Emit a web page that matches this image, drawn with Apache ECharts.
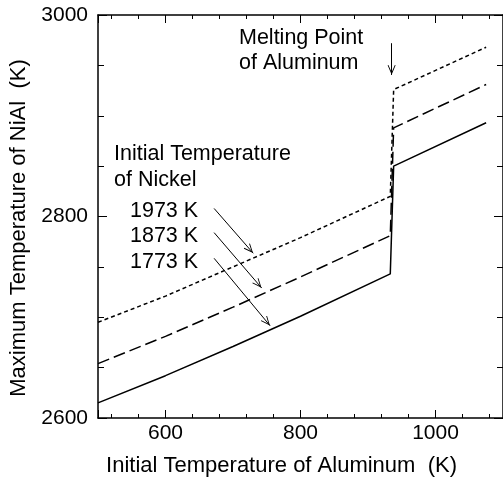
<!DOCTYPE html>
<html>
<head>
<meta charset="utf-8">
<title>NiAl</title>
<script src="https://cdn.jsdelivr.net/npm/echarts@6/dist/echarts.min.js"></script>
<style>
  html, body { margin: 0; padding: 0; background: #fff; }
  #main { width: 503px; height: 484px; }
</style>
</head>
<body>
<div id="main"></div>
<script>
// initial temperature of aluminum (K), jump at the melting point ~933 K
var tempAl = [500, 600, 700, 800, 933, 938, 1075];

// maximum temperature of NiAl (K), one line per initial nickel temperature
var ni1773 = [2615, 2642, 2671, 2701, 2743, 2850, 2893];
var ni1873 = [2654, 2681, 2710, 2740, 2781, 2888, 2931];
var ni1973 = [2695, 2721, 2750, 2779, 2820, 2926, 2968];

var nickelLabels = ['1973 K', '1873 K', '1773 K'];

// annotation arrows [x, y] from -> to
var arrowFrom = [[672, 2808], [672, 2784], [672, 2758.5], [935, 2972]];
var arrowTo   = [[730, 2763.5], [742.5, 2729], [755, 2691.5], [935, 2940.5]];

var FONT = "'Liberation Sans', Arial, Helvetica, sans-serif";

function pairs(xs, ys) {
    return xs.map(function (x, i) { return [x, ys[i]]; });
}

function plain(v) {
    return String(v);
}

// open arrow head, tip sits in the middle of the box
var arrowHead = 'path://M5,0 L5.01,0 Z M5,10 L1,19 L1.8,19.4 L5,12.2 L8.2,19.4 L9,19 Z';

var arrows = arrowFrom.map(function (p, i) {
    return [{ coord: p }, { coord: arrowTo[i] }];
});

var chart = echarts.init(document.getElementById('main'));

var xBase = {
    type: 'value',
    min: 500,
    max: 1100,
    splitNumber: 3,
    axisLine: { show: true, lineStyle: { color: '#000', width: 1.5 } },
    axisTick: { show: true, inside: true, length: 8, lineStyle: { color: '#000', width: 1 } },
    minorTick: { show: true, splitNumber: 5, length: 4, lineStyle: { color: '#000', width: 1 } },
    splitLine: { show: false }
};

var yBase = {
    type: 'value',
    min: 2600,
    max: 3000,
    interval: 200,
    axisLine: { show: true, lineStyle: { color: '#000', width: 1.5 } },
    axisTick: { show: true, inside: true, length: 9, lineStyle: { color: '#000', width: 1 } },
    minorTick: { show: true, splitNumber: 4, length: 6, lineStyle: { color: '#000', width: 1 } },
    splitLine: { show: false }
};

var option = {
    backgroundColor: '#fff',
    animation: false,
    textStyle: { fontFamily: FONT, color: '#000' },
    grid: { left: 98, right: -2, top: 15, bottom: 66 },
    xAxis: [
        Object.assign({}, xBase, {
            position: 'bottom',
            name: 'Initial Temperature of Aluminum  (K)',
            nameLocation: 'middle',
            nameGap: 37,
            nameTextStyle: { fontSize: 22, color: '#000', fontFamily: FONT, padding: [0, 38, 0, 0] },
            axisLabel: {
                show: true, color: '#000', fontSize: 21, fontFamily: FONT, margin: 5,
                showMinLabel: false, showMaxLabel: false, formatter: plain
            }
        }),
        Object.assign({}, xBase, { position: 'top', axisLabel: { show: false } })
    ],
    yAxis: [
        Object.assign({}, yBase, {
            position: 'left',
            name: 'Maximum Temperature of NiAl  (K)',
            nameLocation: 'middle',
            nameGap: 62,
            nameTextStyle: { fontSize: 22, color: '#000', fontFamily: FONT, padding: [0, 23, 0, 0] },
            axisLabel: { show: true, color: '#000', fontSize: 21, fontFamily: FONT, margin: 10, formatter: plain }
        }),
        Object.assign({}, yBase, { position: 'right', axisLabel: { show: false } })
    ],
    graphic: [
        {
            type: 'text', left: 239, top: 26,
            style: { text: 'Melting Point\nof Aluminum', font: '21.5px ' + FONT, fill: '#000', lineHeight: 25 }
        },
        {
            type: 'text', left: 114, top: 141,
            style: { text: 'Initial Temperature\nof Nickel', font: '21.5px ' + FONT, fill: '#000', lineHeight: 26 }
        },
        {
            type: 'text', left: 130, top: 198,
            style: { text: nickelLabels.join('\n'), font: '21.5px ' + FONT, fill: '#000', lineHeight: 25.5 }
        }
    ],
    series: [
        {
            name: '1773 K',
            type: 'line',
            data: pairs(tempAl, ni1773),
            symbol: 'none',
            lineStyle: { color: '#000', width: 1.5, type: 'solid' },
            markLine: {
                silent: true,
                animation: false,
                symbol: ['none', arrowHead],
                symbolSize: [8, 20],
                label: { show: false },
                lineStyle: { color: '#000', width: 1, type: 'solid' },
                emphasis: { disabled: true },
                data: arrows
            }
        },
        {
            name: '1873 K',
            type: 'line',
            data: pairs(tempAl, ni1873),
            symbol: 'none',
            lineStyle: { color: '#000', width: 1.5, type: [12, 5] }
        },
        {
            name: '1973 K',
            type: 'line',
            data: pairs(tempAl, ni1973),
            symbol: 'none',
            lineStyle: { color: '#000', width: 1.5, type: [4, 3] }
        }
    ]
};

chart.setOption(option);
</script>
</body>
</html>
